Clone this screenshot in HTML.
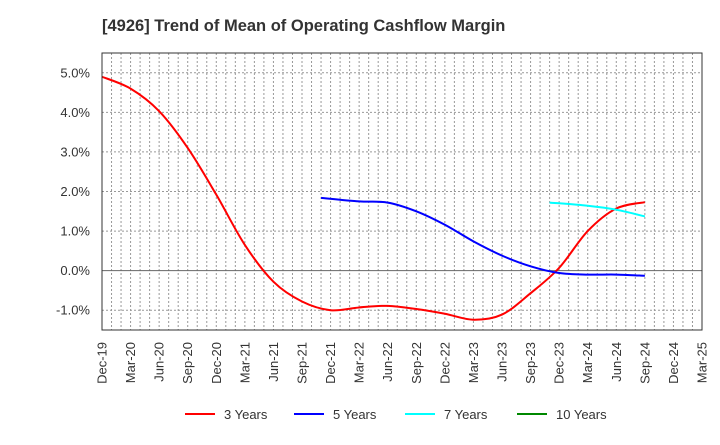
<!DOCTYPE html>
<html><head><meta charset="utf-8"><style>
body{margin:0;background:#fff;font-family:"Liberation Sans",Arial,sans-serif}
svg text{font-family:"Liberation Sans",Arial,sans-serif}
</style></head><body>
<svg id="c" width="720" height="440" xmlns="http://www.w3.org/2000/svg">
<text x="102" y="31" font-size="16.5" font-weight="bold" fill="#333">[4926]  Trend of Mean of Operating Cashflow Margin</text>
<g id="grid"></g>
<g id="series"></g>
<g id="axes"></g>
<g id="legend"></g>
</svg>
<script>
const xLabels=["Dec-19","Mar-20","Jun-20","Sep-20","Dec-20","Mar-21","Jun-21","Sep-21","Dec-21","Mar-22","Jun-22","Sep-22","Dec-22","Mar-23","Jun-23","Sep-23","Dec-23","Mar-24","Jun-24","Sep-24","Dec-24","Mar-25"];
const yTicks=[5,4,3,2,1,0,-1];
const yTickLabels=["5.0%","4.0%","3.0%","2.0%","1.0%","0.0%","-1.0%"];
const redMonths=[0,3,6,9,12,15,18,21,24,27,30,33,36,39,42,45,48,51,54,57];
const redValues=[4.9,4.6,4.03,3.1,1.92,0.65,-0.28,-0.78,-1.0,-0.93,-0.89,-0.97,-1.09,-1.24,-1.11,-0.57,0.07,1.0,1.57,1.73];
const blueMonths=[23,27,30,33,36,39,42,45,48,51,54,57];
const blueValues=[1.84,1.75,1.72,1.5,1.16,0.74,0.38,0.11,-0.06,-0.1,-0.1,-0.13];
const cyanMonths=[47,51,54,57];
const cyanValues=[1.72,1.64,1.54,1.37];
const legendNames=["3 Years","5 Years","7 Years","10 Years"];
const legendColors=["#f00","#00f","#0ff","#080"];

const L=102,R=702,T=53,B=330,yMin=-1.5,yMax=5.5,mMax=63;
const X=m=>L+(R-L)*m/mMax, Y=v=>B-(B-T)*(v-yMin)/(yMax-yMin);
const NS="http://www.w3.org/2000/svg";
function mk(t,a,p){const e=document.createElementNS(NS,t);for(const k in a)e.setAttribute(k,a[k]);p.appendChild(e);return e;}
const grid=document.getElementById('grid'),axes=document.getElementById('axes'),ser=document.getElementById('series'),leg=document.getElementById('legend');
for(let m=1;m<mMax;m++){const l=mk('line',{x1:X(m),x2:X(m),y1:T,y2:B,stroke:'#999','stroke-width':1,'stroke-dasharray':'2,2'},grid);
}
yTicks.forEach((v,i)=>{const l=mk('line',{x1:L,x2:R,y1:Y(v),y2:Y(v),stroke:v===0?'#666':'#999','stroke-width':1,'stroke-dasharray':v===0?'':'2,2'},grid);

const t=mk('text',{x:L-12,y:Y(v)+4.5,'text-anchor':'end','font-size':13,fill:'#333'},axes);t.textContent=yTickLabels[i];
});
const fr=mk('rect',{x:L,y:T,width:R-L,height:B-T,fill:'none',stroke:'#333','stroke-width':1},axes);

xLabels.forEach((s,i)=>{const x=X(i*3);const t=mk('text',{x:x+4.5,y:B+12,'text-anchor':'end','font-size':13,fill:'#333',transform:`rotate(-90 ${x+4.5} ${B+12})`},axes);t.textContent=s;
});
function path(ms,vs){const p=ms.map((m,i)=>[X(m),Y(vs[i])]);let d=`M${p[0][0]},${p[0][1]}`;
for(let i=0;i<p.length-1;i++){const p0=p[i-1]||p[i],p1=p[i],p2=p[i+1],p3=p[i+2]||p2;
d+=`C${p1[0]+(p2[0]-p0[0])/6},${p1[1]+(p2[1]-p0[1])/6} ${p2[0]-(p3[0]-p1[0])/6},${p2[1]-(p3[1]-p1[1])/6} ${p2[0]},${p2[1]}`;}return d;}
[[redMonths,redValues,'#f00','line-3-years'],[blueMonths,blueValues,'#00f','line-5-years'],[cyanMonths,cyanValues,'#0ff','line-7-years']].forEach(s=>{
const e=mk('path',{d:path(s[0],s[1]),fill:'none',stroke:s[2],'stroke-width':2},ser);
});
const lx=[185,294,405,517];
legendNames.forEach((n,i)=>{const l=mk('line',{x1:lx[i],x2:lx[i]+30,y1:414,y2:414,stroke:legendColors[i],'stroke-width':2},leg);

const t=mk('text',{x:lx[i]+39,y:419,'font-size':13,fill:'#333'},leg);t.textContent=n;
});
</script>
</body></html>
